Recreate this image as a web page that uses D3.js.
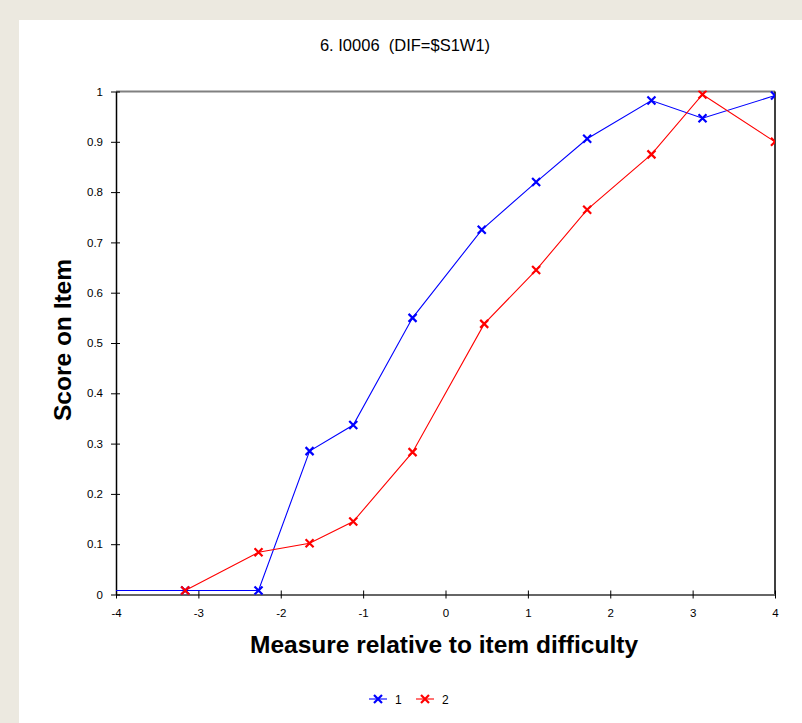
<!DOCTYPE html>
<html>
<head>
<meta charset="utf-8">
<script src="https://cdn.jsdelivr.net/npm/d3@7/dist/d3.min.js"></script>
<style>
  html, body { margin: 0; padding: 0; background: #ECE9E0; }
  svg { display: block; }
</style>
</head>
<body>
<svg id="chart" width="802" height="723"></svg>
<script>
// ---- data ----
const titleText = "6. I0006  (DIF=$S1W1)";
const xLabel = "Measure relative to item difficulty";
const yLabel = "Score on Item";
const seriesNames = ["1", "2"];
const seriesColors = ["#0000FF", "#FF0000"];

const xBlue = [-4.6, -3.16, -2.27, -1.65, -1.12, -0.40, 0.44, 1.10, 1.72, 2.50, 3.12, 4.0];
const yBlue = [0.008, 0.008, 0.008, 0.285, 0.337, 0.550, 0.725, 0.820, 0.906, 0.982, 0.947, 0.992];
const xRed  = [-3.16, -2.27, -1.65, -1.12, -0.40, 0.47, 1.10, 1.72, 2.50, 3.12, 4.0];
const yRed  = [0.008, 0.084, 0.102, 0.145, 0.283, 0.538, 0.645, 0.765, 0.875, 0.994, 0.900];

const xTicks = [-4, -3, -2, -1, 0, 1, 2, 3, 4];
const yTicks = [0, 0.1, 0.2, 0.3, 0.4, 0.5, 0.6, 0.7, 0.8, 0.9, 1];

// ---- layout ----
const svg = d3.select("#chart");
svg.append("rect").attr("x", 19).attr("y", 20).attr("width", 802 - 19).attr("height", 723 - 20).attr("fill", "#FFFFFF");

const L = 116, R = 775, T = 91.5, B = 594.5;
const x = d3.scaleLinear().domain([-4, 4]).range([L, R]);
const y = d3.scaleLinear().domain([0, 1]).range([B, T]);

const font = "'Liberation Sans', Arial, sans-serif";

// title
svg.append("text").attr("x", 405).attr("y", 51).attr("text-anchor", "middle")
  .style("white-space", "pre")
  .attr("font-family", font).attr("font-size", 16.5).attr("fill", "#000").text(titleText);

// plot border: top gray, right black
svg.append("line").attr("x1", L).attr("x2", R).attr("y1", T).attr("y2", T)
  .attr("stroke", "#808080").attr("stroke-width", 2);
svg.append("line").attr("x1", R).attr("x2", R).attr("y1", T).attr("y2", B)
  .attr("stroke", "#000").attr("stroke-width", 1.5);

// clip
svg.append("clipPath").attr("id", "clip").append("rect")
  .attr("x", L).attr("y", T - 1).attr("width", R - L).attr("height", B - T + 2);

// axes
const xAxis = d3.axisBottom(x).tickValues(xTicks).tickFormat(d => String(d))
  .tickSizeInner(7).tickSizeOuter(0).tickPadding(8);
const gx = svg.append("g").attr("transform", `translate(0,${B})`).call(xAxis);
gx.attr("font-size", 11.5).attr("font-family", font);
gx.select(".domain").attr("stroke", "#666").attr("stroke-width", 2);
gx.selectAll(".tick line").attr("stroke", "#000").attr("y1", -4).attr("y2", 4);
gx.selectAll(".tick text").attr("fill", "#000").attr("dy", "0.65em");

const yAxis = d3.axisLeft(y).tickValues(yTicks).tickFormat(d => d === 0 || d === 1 ? String(d) : d3.format(".1f")(d))
  .tickSizeInner(5).tickSizeOuter(0).tickPadding(8);
const gy = svg.append("g").attr("transform", `translate(${L},0)`).call(yAxis);
gy.attr("font-size", 11.5).attr("font-family", font);
gy.select(".domain").attr("stroke", "#000").attr("stroke-width", 1.5);
gy.selectAll(".tick line").attr("stroke", "#000").attr("x1", -5).attr("x2", 4);
gy.selectAll(".tick text").attr("fill", "#000");

// axis titles
svg.append("text").attr("x", 444).attr("y", 653).attr("text-anchor", "middle")
  .attr("font-family", font).attr("font-weight", "bold").attr("font-size", 24.5).attr("fill", "#000").text(xLabel);
svg.append("text").attr("transform", "translate(71,340) rotate(-90)").attr("text-anchor", "middle")
  .attr("font-family", font).attr("font-weight", "bold").attr("font-size", 24.5).attr("fill", "#000").text(yLabel);

// series
const series = [
  { name: seriesNames[0], color: seriesColors[0], pts: xBlue.map((v, i) => [v, yBlue[i]]) },
  { name: seriesNames[1], color: seriesColors[1], pts: xRed.map((v, i) => [v, yRed[i]]) }
];
const line = d3.line().x(d => x(d[0])).y(d => y(d[1]));
const plot = svg.append("g").attr("clip-path", "url(#clip)");

function marker(g, cx, cy, color) {
  const s = 4;
  g.append("path").attr("d", `M${cx - s},${cy - s}L${cx + s},${cy + s}M${cx - s},${cy + s}L${cx + s},${cy - s}`)
    .attr("stroke", color).attr("stroke-width", 2.2).attr("fill", "none");
}

series.forEach(s => {
  plot.append("path").datum(s.pts).attr("d", line).attr("fill", "none")
    .attr("stroke", s.color).attr("stroke-width", 1.1);
});
series.forEach(s => {
  s.pts.forEach(p => marker(plot, x(p[0]), y(p[1]), s.color));
});

// legend
const legX = [369, 416];
series.forEach((s, i) => {
  const g = svg.append("g");
  g.append("line").attr("x1", legX[i]).attr("x2", legX[i] + 18).attr("y1", 699).attr("y2", 699)
    .attr("stroke", s.color).attr("stroke-width", 1.1);
  marker(g, legX[i] + 9, 699, s.color);
  g.append("text").attr("x", legX[i] + 26).attr("y", 703.5).attr("font-family", font)
    .attr("font-size", 12).attr("fill", "#000").text(s.name);
});
</script>
</body>
</html>
